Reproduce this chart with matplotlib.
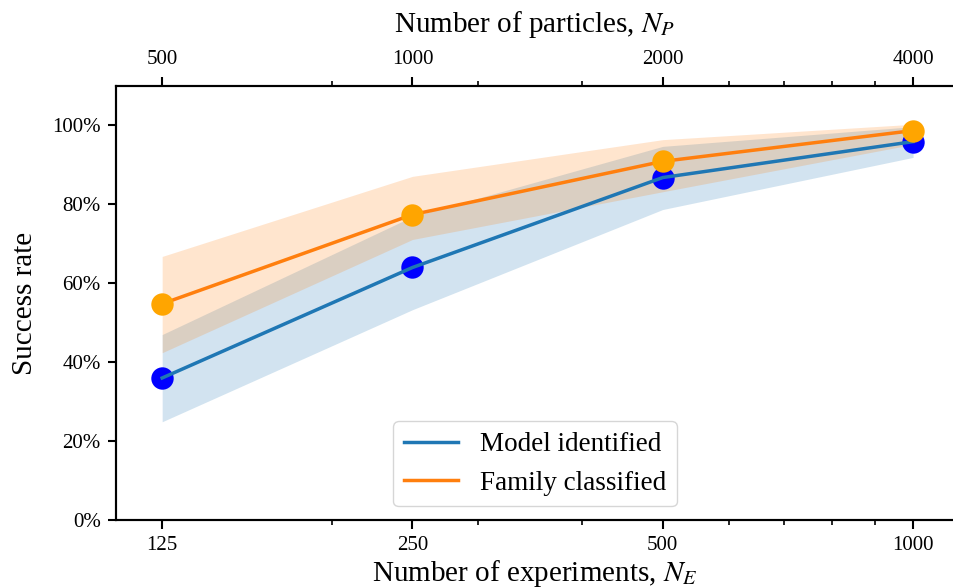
import matplotlib
matplotlib.use("Agg")
import matplotlib.pyplot as plt
from matplotlib.ticker import PercentFormatter, NullFormatter, FixedLocator

plt.rcParams['font.family'] = ['Liberation Serif', 'DejaVu Serif']
plt.rcParams['mathtext.fontset'] = 'stix'

n_experiments = [125, 250, 500, 1000]
n_particles = [500, 1000, 2000, 4000]

model_mean = [0.360, 0.640, 0.868, 0.959]
model_low = [0.249, 0.533, 0.787, 0.919]
model_high = [0.470, 0.769, 0.947, 0.997]

family_mean = [0.548, 0.774, 0.909, 0.987]
family_low = [0.424, 0.711, 0.832, 0.952]
family_high = [0.668, 0.871, 0.964, 1.003]

fig = plt.figure(figsize=(9.54, 5.88), dpi=100)
ax = fig.add_axes([116/954, 1-520/588, 1-116/954, (520-86)/588])

ax.fill_between(n_experiments, model_low, model_high, color='#1f77b4', alpha=0.2, linewidth=0)
ax.fill_between(n_experiments, family_low, family_high, color='#ff7f0e', alpha=0.2, linewidth=0)
ax.scatter(n_experiments, model_mean, s=260, color='#0000ff', zorder=1.5, linewidths=0)
ax.plot(n_experiments, model_mean, color='#1f77b4', lw=2.5, label='Model identified', zorder=2)
ax.plot(n_experiments, family_mean, color='#ff7f0e', lw=2.5, label='Family classified', zorder=2.1)
ax.scatter(n_experiments, family_mean, s=260, color='#ffa500', zorder=3, linewidths=0)

ax.set_xscale('log')
ax.set_xlim(110, 1120)
ax.set_ylim(0, 1.1)
ax.set_xticks(n_experiments)
ax.set_xticklabels([str(v) for v in n_experiments])
ax.xaxis.set_minor_formatter(NullFormatter())
ax.yaxis.set_major_locator(FixedLocator([0, 0.2, 0.4, 0.6, 0.8, 1.0]))
ax.yaxis.set_major_formatter(PercentFormatter(1.0, decimals=0))
ax.tick_params(axis='x', which='major', labelsize=15, width=1.5, length=6.5, pad=5)
ax.tick_params(axis='y', which='major', labelsize=15, width=1.5, length=6, pad=5)
ax.tick_params(axis='both', which='minor', width=1.2, length=3.5)
for s in ax.spines.values():
    s.set_linewidth(1.5)
ax.spines['right'].set_visible(False)

ax.set_xlabel('Number of experiments, $N_E$', fontsize=21, labelpad=2)
ax.set_ylabel('Success rate', fontsize=21, labelpad=10)

ax2 = ax.twiny()
ax2.set_xscale('log')
ax2.set_xlim(ax.get_xlim())
ax2.set_xticks(n_experiments)
ax2.set_xticklabels([str(v) for v in n_particles])
ax2.xaxis.set_minor_formatter(NullFormatter())
ax2.tick_params(axis='x', which='major', labelsize=15, width=1.5, length=6.5, pad=5.5)
ax2.tick_params(axis='x', which='minor', width=1.2, length=3.5)
for s in ax2.spines.values():
    s.set_linewidth(1.5)
ax2.spines['right'].set_visible(False)
ax2.set_xlabel('Number of particles, $N_P$', fontsize=21, labelpad=13)

leg = ax.legend(loc='lower center', fontsize=19.5, handlelength=2.0)

fig.savefig('out.png', dpi=100)
